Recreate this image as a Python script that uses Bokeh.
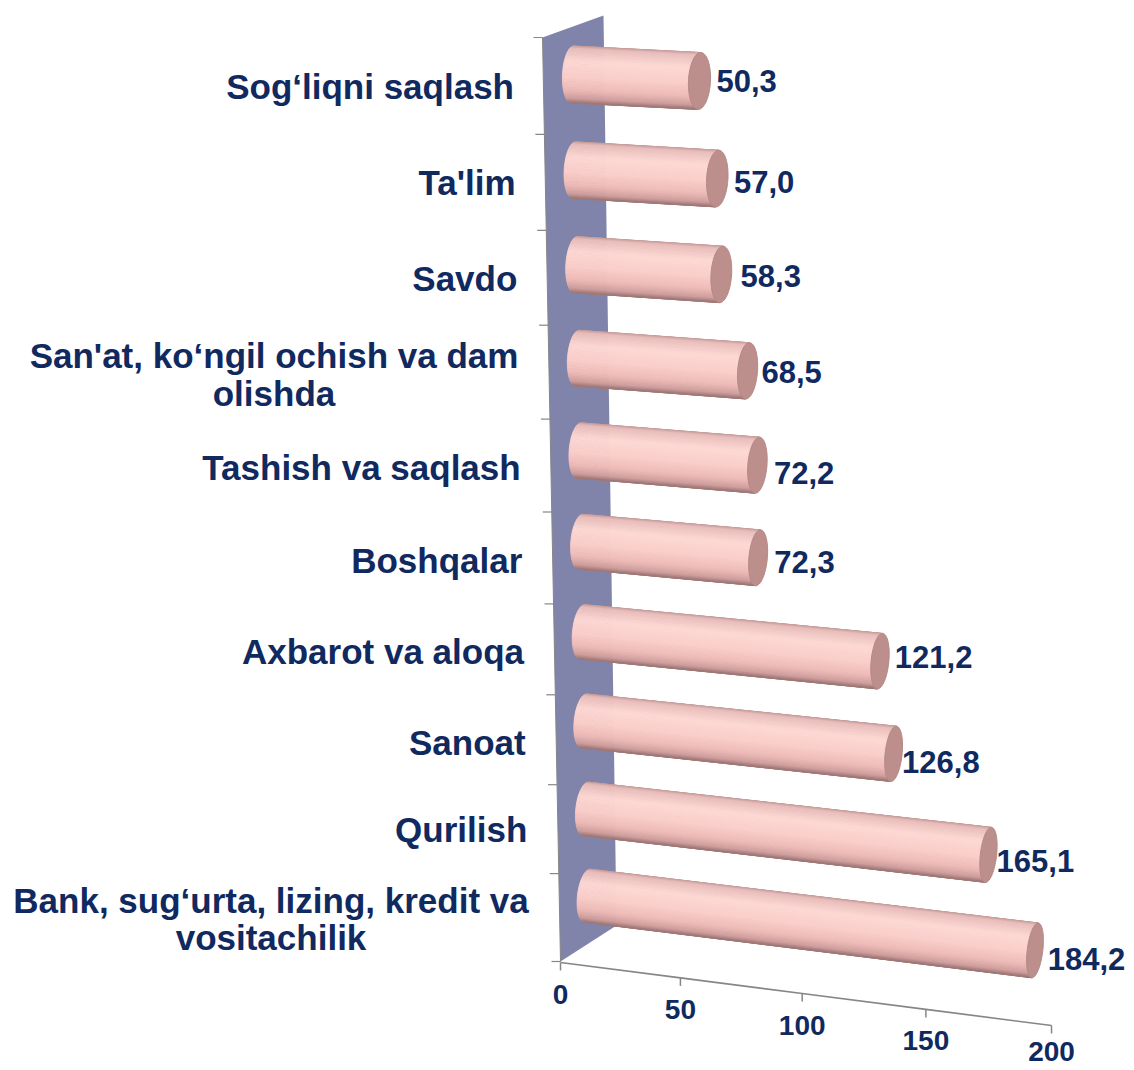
import numpy as np
from bokeh.plotting import figure
from bokeh.models import Range1d
from bokeh.core.properties import value
from bokeh.embed import file_html
from bokeh.resources import INLINE

# ---- data (top to bottom) ----
categories = [
    ["Sog‘liqni saqlash"], ["Ta'lim"], ["Savdo"],
    ["San'at, ko‘ngil ochish va dam", "olishda"],
    ["Tashish va saqlash"], ["Boshqalar"], ["Axbarot va aloqa"],
    ["Sanoat"], ["Qurilish"],
    ["Bank, sug‘urta, lizing, kredit va", "vositachilik"],
]
values = [50.3, 57.0, 58.3, 68.5, 72.2, 72.3, 121.2, 126.8, 165.1, 184.2]
value_labels = ["50,3", "57,0", "58,3", "68,5", "72,2", "72,3", "121,2", "126,8", "165,1", "184,2"]
axis_ticks = [0, 50, 100, 150, 200]

# ---- style / layout ----
W, H = 1134, 1070
NAVY = "#10295F"
WALL = "#8084AB"
AXIS = "#868686"
CAP = "#BC8F8D"
FONT = value("Liberation Sans")
STOPS_S = [-1.0, -0.9, -0.45, 0.1, 0.55, 0.85, 1.0]
STOPS_C = [(0xC4, 0x9A, 0x99), (0xE8, 0xBD, 0xBA), (0xFD, 0xD8, 0xD4), (0xFA, 0xCE, 0xCA),
           (0xEE, 0xBB, 0xB8), (0xCE, 0x9E, 0x9C), (0xA0, 0x78, 0x77)]
label_dx = [6, 6, 9, 4, 7, 7, 6, 0, 0, 5]
label_dy = [0, 3, 2, 1, 8, 4, -4, 8, 6, 9]
tick_label_dy = [32, 32, 32, 31, 26]

p = figure(width=W, height=H, output_backend="svg", toolbar_location=None,
           x_range=Range1d(0, W), y_range=Range1d(H, 0), min_border=0,
           outline_line_color=None, background_fill_color="white")
p.axis.visible = False
p.grid.visible = False


def band(t):
    return 37 + 97.4 * t - 0.5 * t * t


def wall_x(y):
    return 542 + (y - 37) * 18 / 924


# wall
p.patch([542, 603, 616, 560], [37, 15, 925, 961], fill_color=WALL, line_color=None)
# axes
fx = lambda v: 560 + 2.38 * v / (1 - 0.000153 * v)
fy = lambda v: 962 + 63 * (fx(v) - 560) / 491
p.line([fx(v) for v in axis_ticks], [fy(v) for v in axis_ticks], line_color=AXIS, line_width=1.6)
p.segment([fx(v) for v in axis_ticks], [fy(v) for v in axis_ticks],
          [fx(v) for v in axis_ticks], [fy(v) + 8 for v in axis_ticks], line_color=AXIS, line_width=1.5)
ty = [band(t) for t in range(11)]
p.segment([wall_x(y) - 9 for y in ty], ty, [wall_x(y) for y in ty], ty, line_color=AXIS, line_width=1.2)
p.line([wall_x(ty[0]), wall_x(ty[-1])], [ty[0], ty[-1]], line_color=AXIS, line_width=1)
p.text([fx(v) for v in axis_ticks], [fy(v) + o for v, o in zip(axis_ticks, tick_label_dy)],
       text=[str(v) for v in axis_ticks],
       text_font=FONT, text_font_style="bold", text_font_size="28px", text_color=NAVY,
       text_align="center", text_baseline="middle")

# cylinders
edges = np.sin(np.linspace(-np.pi / 2, np.pi / 2, 49))
xs, ys, cols = [], [], []
cx, cy = [], []
vx, vy = [], []
ang = np.linspace(0, 2 * np.pi, 80)
for t, v in enumerate(values):
    sx = 572 + 15 * t / 9
    sy = 74 + 96.2 * t - 0.55 * t * t
    k = 2.505 - 0.016 * t
    slope = 0.051 + 0.0079 * t
    dx = k * v / (1 - 0.000153 * v)
    ex, ey = sx + dx, sy + dx * slope
    nrm = np.hypot(1, slope)
    d = np.array([1, slope]) / nrm
    n = np.array([-slope, 1]) / nrm
    rb, rc, rxc = 28.5 - 0.2 * t, 28.5 - 0.1 * t, 11 - 0.36 * t
    for a, b in zip(edges[:-1], edges[1:]):
        m = (a + b) / 2
        c = np.array([np.interp(m, STOPS_S, [col[i] for col in STOPS_C]) for i in range(3)]).astype(int)
        cols.append("#%02x%02x%02x" % tuple(c))
        ba = np.array([sx, sy]) + n * rb * a - d * 10 * np.sqrt(max(0, 1 - a * a))
        bb = np.array([sx, sy]) + n * rb * b - d * 10 * np.sqrt(max(0, 1 - b * b))
        ea = np.array([ex, ey]) + n * rc * a
        eb = np.array([ex, ey]) + n * rc * b
        xs.append([ba[0], ea[0], eb[0], bb[0]])
        ys.append([ba[1], ea[1], eb[1], bb[1]])
    cx.append(list(ex + n[0] * rc * np.sin(ang) + d[0] * rxc * np.cos(ang)))
    cy.append(list(ey + n[1] * rc * np.sin(ang) + d[1] * rxc * np.cos(ang)))
    vx.append(ex + rxc + label_dx[t])
    vy.append(ey + label_dy[t])

p.patches(xs, ys, fill_color=cols, line_color=cols, line_width=0.8)
p.patches(cx, cy, fill_color=CAP, line_color="#B58887", line_width=1)

# labels
p.text(vx, vy, text=value_labels, text_font=FONT, text_font_style="bold", text_font_size="31px",
       text_color=NAVY, text_align="left", text_baseline="middle")

right_x, right_y, right_t = [], [], []
mid_x, mid_y, mid_t = [], [], []
single_y = [86, 182, 278, None, 467, 560, 651, 742, 829, None]
double_y = {3: (355, 393), 9: (900, 937)}
double_x = {3: 273.5, 9: 270.5}
for t, lines in enumerate(categories):
    r = 513.5 + 1.67 * t
    if len(lines) == 1:
        right_x.append(r); right_y.append(single_y[t]); right_t.append(lines[0])
    else:
        for line, yy in zip(lines, double_y[t]):
            mid_x.append(double_x[t]); mid_y.append(yy); mid_t.append(line)
p.text(right_x, right_y, text=right_t, text_font=FONT, text_font_style="bold", text_font_size="35px",
       text_color=NAVY, text_align="right", text_baseline="middle")
p.text(mid_x, mid_y, text=mid_t, text_font=FONT, text_font_style="bold", text_font_size="35px",
       text_color=NAVY, text_align="center", text_baseline="middle")

open("out.html", "w").write(file_html(p, INLINE))
